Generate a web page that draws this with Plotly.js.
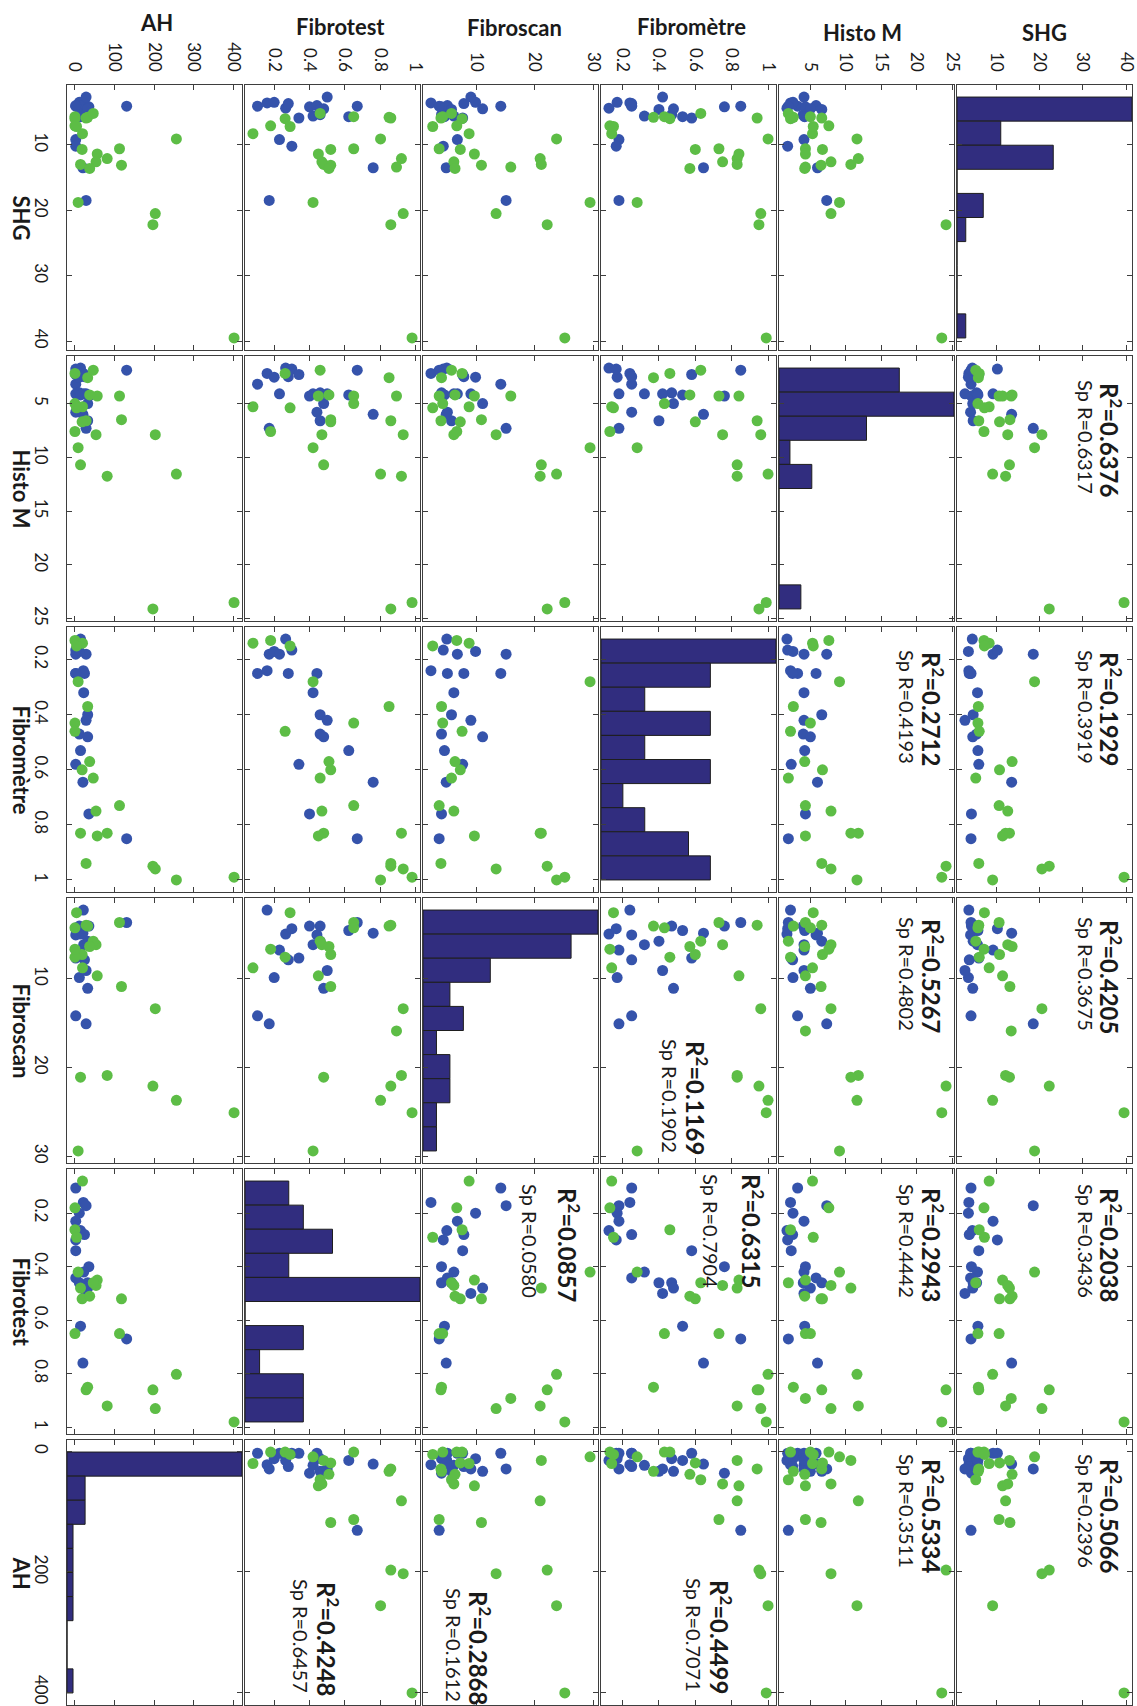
<!DOCTYPE html>
<html>
<head>
<meta charset="utf-8">
<script src="https://cdn.plot.ly/plotly-3.0.1.min.js"></script>
<style>
html,body{margin:0;padding:0;background:#fff;overflow:hidden}
#chart{width:1137px;height:1706px}
</style>
</head>
<body>
<div id="chart"></div>
<script>
// ---------------- DATA ----------------
const variables = ['SHG', 'Histo M', 'Fibromètre', 'Fibroscan', 'Fibrotest', 'AH'];

// group of each patient (19 blue, 22 green)
const group = ['B','B','B','B','B','B','B','B','B','B','B','B','B','B','B','B','B','B','B',
               'G','G','G','G','G','G','G','G','G','G','G','G','G','G','G','G','G','G','G','G','G','G'];

const shg = [4.1, 3.6, 18.5, 3.5, 9.2, 4.4, 3.7, 10.2, 5.9, 4.2, 5.6, 4.0, 4.6, 5.4, 4.5, 2.7, 5.7, 4.1, 13.5,
             39.5, 22.2, 20.5, 9.1, 18.8, 12.1, 13.0, 13.4, 5.9, 5.8, 10.6, 13.1, 10.7, 11.4, 12.6, 5.2, 13.6, 5.7, 6.0, 8.3, 7.1, 7.2];

const histoM = [3.2, 2.2, 7.3, 2.55, 4.1, 1.7, 2.5, 1.8, 2.3, 4.3, 4.1, 5.8, 6.6, 4.0, 5.0, 4.1, 4.2, 1.9, 6.0,
                23.5, 24.1, 7.9, 11.56, 9.1, 11.75, 10.7, 4.3, 6.6, 2.6, 4.3, 6.5, 6.7, 4.3, 7.9, 1.9, 4.2, 5.0, 2.2, 5.3, 7.6, 5.4];

const fibrometre = [0.25, 0.24, 0.18, 0.17, 0.18, 0.125, 0.25, 0.165, 0.58, 0.76, 0.32, 0.25, 0.40, 0.47, 0.48, 0.42, 0.53, 0.85, 0.645,
                    0.99, 0.95, 0.96, 1.0, 0.28, 0.83, 0.83, null, 0.94, 0.37, 0.73, null, 0.60, 0.84, 0.75, 0.63, 0.57, 0.43, 0.46, 0.14, 0.13, 0.15];

const fibroscan = [14.2, 2.3, 15.1, 9.9, 6.8, 5.0, 7.9, 4.4, 7.7, 4.1, 6.2, 5.1, 5.8, 4.1, 11.1, 9.1, 4.6, 3.7, 4.9,
                   25.1, 22.1, 13.4, 23.7, 29.4, 20.9, 21.1, 15.9, 4.0, 4.1, 3.7, 10.9, 7.3, 9.7, 6.2, 5.8, 6.4, 4.3, 7.6, 8.8, 6.7, 2.6];

const fibrotest = [0.106, 0.16, 0.172, 0.20, 0.23, 0.265, 0.28, 0.30, 0.34, 0.40, 0.42, 0.442, 0.46, 0.46, 0.48, 0.50, 0.622, 0.67, 0.76,
                   0.98, 0.86, 0.93, 0.802, 0.42, 0.92, 0.48, 0.892, 0.86, 0.85, 0.65, 0.52, 0.52, 0.45, 0.47, 0.46, 0.51, 0.65, 0.262, 0.08, 0.18, 0.29];

const ah = [3, 22, 29, 12, 3, 15, 25, 3, 3, 36, 23, 3, 33, 12, 33, 29, 15, 131, 21,
            401, 197, 203, 256, 9, 82, 15, null, 29, 33, 113, 118, 19, 57, 54, 47, 38, 1, 1, 20, 1, 5];

// tick labels per variable
const hTickLabels = [['10','20','30','40'], ['5','10','15','20','25'], ['0.2','0.4','0.6','0.8','1'],
                     ['10','20','30'], ['0.2','0.4','0.6','0.8','1'], ['0','100','200','300','400']];
const vTickLabels = [['10','20','30','40'], ['5','10','15','20','25'], ['0.2','0.4','0.6','0.8','1'],
                     ['10','20','30'], ['0.2','0.4','0.6','0.8','1'], ['0','200','400']];

// correlation annotations: [horizontal variable, vertical variable]
const corrPairs = [[0,1],[0,2],[0,3],[0,4],[0,5],[1,2],[1,3],[1,4],[1,5],[2,3],[2,4],[2,5],[3,4],[3,5],[4,5]];
const r2Values  = ['0.6376','0.1929','0.4205','0.2038','0.5066','0.2712','0.5267','0.2943','0.5334','0.1169','0.6315','0.4499','0.0857','0.2868','0.4248'];
const spRValues = ['0.6317','0.3919','0.3675','0.3436','0.2396','0.4193','0.4802','0.4442','0.3511','0.1902','0.7904','0.7071','0.0580','0.1612','0.6457'];

// ---------------- LAYOUT / STYLE ----------------
const W = 1137, H = 1706;
const FONT = 'Lato, "Open Sans", "Noto Sans", sans-serif';
const LINE = '#3e3e3e';
const BLUE = '#3553ab', GREEN = '#5dbd46', HIST = '#312d7f';

// column (image x) pixel extents, indexed by variable
const colPx = [[957,1132],[779,954],[601,776],[423,598],[245,420],[67,242]];
// row (image y) pixel extents, indexed by variable
const rowPx = [[85,350],[356,621],[627,892],[898,1163],[1169,1434],[1440,1705]];

// annotation positions: [R2 x, R2 top y, SpR x, SpR top y]
const corrPos = [[1111,381,1086,378],[1111,650,1086,648],[1111,918,1086,915],[1111,1186,1086,1182],[1111,1457,1086,1452],
                 [933,650,907,648],[933,917,907,915],[933,1186,907,1182],[933,1457,907,1452],
                 [697,1039,670,1037],[753,1172,711,1172],[721,1578,694,1576],
                 [569,1186,530,1182],[480,1589,454,1586],[328,1580,301,1577]];
const topTitlePos = [[1044,33],[862,33],[691,26],[514,28],[340,26],[156,22]];

const dataVars = [shg, histoM, fibrometre, fibroscan, fibrotest, ah];
const colors = group.map(g => g === 'B' ? BLUE : GREEN);

function finite(arr){ return arr.filter(v => v !== null && isFinite(v)); }
const ranges = dataVars.map(arr => {
  const f = finite(arr); const mn = Math.min(...f), mx = Math.max(...f), d = mx - mn;
  return [mn - 0.05*d, mx + 0.05*d];
});
const tickVals = lbls => lbls.map(Number);

const layout = {
  width: W, height: H, margin: {l:0, r:0, t:0, b:0},
  showlegend: false, paper_bgcolor: '#ffffff', plot_bgcolor: '#ffffff',
  font: {family: FONT, size: 17, color: '#1a1a1a'},
  annotations: [], bargap: 0
};
const traces = [];

function axBase(){
  return {ticks:'inside', ticklen:5, tickwidth:1, tickcolor:LINE, showline:true, linecolor:LINE, linewidth:1.3,
          mirror:'ticks', showgrid:false, zeroline:false, fixedrange:true, ticklabeloverflow:'allow',
          tickfont:{family:FONT, size:17, color:'#1a1a1a'}};
}

// histogram counts for the diagonal (10 bins from min to max, like MATLAB hist)
function histogram(arr){
  const f = finite(arr);
  const mn = Math.min(...f), mx = Math.max(...f), bw = (mx - mn)/10;
  const counts = new Array(10).fill(0);
  f.forEach(val => { let k = Math.floor((val - mn)/bw + 1e-9); if (k > 9) k = 9; if (k < 0) k = 0; counts[k]++; });
  return {counts, centers: counts.map((c,k) => mn + bw*(k+0.5)), bw};
}

let n = 0;
for (let a = 0; a < 6; a++) {
  for (let b = 0; b < 6; b++) {
    n++;
    const sfx = n === 1 ? '' : String(n);
    let xRange = ranges[a], xTicks = tickVals(hTickLabels[a]);
    let hist = null;
    if (a === b) {
      // count axis; variable ticks mapped linearly onto it so the frame keeps the variable's tick marks
      hist = histogram(dataVars[a]);
      const cmax = Math.max(...hist.counts);
      xTicks = xTicks.map(t => (t - ranges[a][0]) / (ranges[a][1] - ranges[a][0]) * cmax);
      xRange = [0, cmax];
    }
    layout['xaxis'+sfx] = Object.assign(axBase(), {
      domain: [colPx[a][0]/W, colPx[a][1]/W], range: xRange, anchor: 'y'+sfx,
      tickmode: 'array', tickvals: xTicks, ticktext: hTickLabels[a],
      side: 'top', tickangle: 90, showticklabels: b === 0, ticklabelstandoff: 6
    });
    layout['yaxis'+sfx] = Object.assign(axBase(), {
      domain: [1 - rowPx[b][1]/H, 1 - rowPx[b][0]/H], range: [ranges[b][1], ranges[b][0]], anchor: 'x'+sfx,
      tickmode: 'array', tickvals: tickVals(vTickLabels[b]), ticktext: vTickLabels[b],
      side: 'left', tickangle: 90, showticklabels: a === 5, ticklabelstandoff: 10
    });
    if (hist) {
      traces.push({type:'bar', orientation:'h', y:hist.centers, x:hist.counts, width:hist.bw,
                   xaxis:'x'+sfx, yaxis:'y'+sfx,
                   marker:{color:HIST, line:{color:'#1e1e1e', width:1}}, hoverinfo:'skip'});
    } else {
      const xs = [], ys = [], cs = [];
      for (let i = 0; i < group.length; i++) {
        const xv = dataVars[a][i], yv = dataVars[b][i];
        if (xv === null || yv === null) continue;
        xs.push(xv); ys.push(yv); cs.push(colors[i]);
      }
      traces.push({type:'scatter', mode:'markers', x:xs, y:ys, xaxis:'x'+sfx, yaxis:'y'+sfx,
                   marker:{size:11, color:cs, line:{width:0}}, hoverinfo:'skip', cliponaxis:false});
    }
  }
}

// correlation texts
corrPairs.forEach((p, i) => {
  const pos = corrPos[i];
  layout.annotations.push({xref:'paper', yref:'paper', x:pos[0]/W, y:1-pos[1]/H, xanchor:'center', yanchor:'top',
    text:'<b>R<sup>2</sup>=' + r2Values[i] + '</b>', textangle:90, showarrow:false,
    font:{family:FONT, size:24, color:'#1a1a1a'}});
  layout.annotations.push({xref:'paper', yref:'paper', x:pos[2]/W, y:1-pos[3]/H, xanchor:'center', yanchor:'top',
    text:'Sp R=' + spRValues[i], textangle:90, showarrow:false,
    font:{family:FONT, size:20, color:'#1a1a1a'}});
});

// variable titles: horizontal along the top, rotated along the left
variables.forEach((name, v) => {
  layout.annotations.push({xref:'paper', yref:'paper', x:topTitlePos[v][0]/W, y:1-topTitlePos[v][1]/H,
    xanchor:'center', yanchor:'middle', text:'<b>'+name+'</b>', showarrow:false,
    font:{family:FONT, size:22, color:'#1a1a1a'}});
  const yc = (rowPx[v][0] + rowPx[v][1]) / 2;
  layout.annotations.push({xref:'paper', yref:'paper', x:21/W, y:1-yc/H,
    xanchor:'center', yanchor:'middle', text:'<b>'+name+'</b>', textangle:90, showarrow:false,
    font:{family:FONT, size:22, color:'#1a1a1a'}});
});

Plotly.newPlot('chart', traces, layout, {staticPlot:true, displayModeBar:false});
</script>
</body>
</html>
